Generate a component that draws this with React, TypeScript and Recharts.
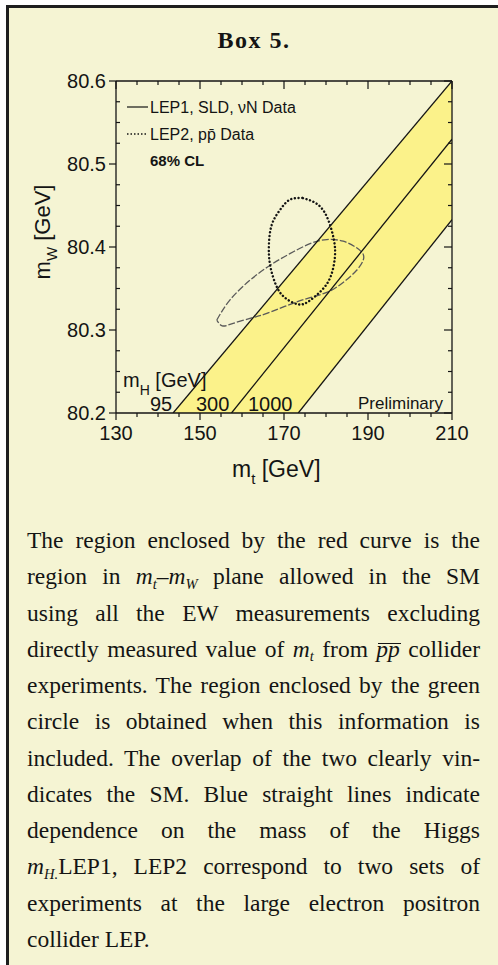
import React from 'react';
import { ComposedChart, Line, Area, XAxis, YAxis } from 'recharts';

// tick positions (minor + major), labels only on majors
const xTicks = [130, 135, 140, 145, 150, 155, 160, 165, 170, 175, 180, 185, 190, 195, 200, 205, 210];
const yTicks = [80.2, 80.225, 80.25, 80.275, 80.3, 80.325, 80.35, 80.375, 80.4, 80.425, 80.45, 80.475, 80.5, 80.525, 80.55, 80.575, 80.6];
const xLabels = [130, 150, 170, 190, 210];
const yLabels = [80.2, 80.3, 80.4, 80.5, 80.6];

// SM prediction lines for m_H = 95, 300, 1000 GeV
const higgs95 = [{ mt: 143.6, mw: 80.2 }, { mt: 210, mw: 80.6 }];
const higgs300 = [{ mt: 157.5, mw: 80.2 }, { mt: 210, mw: 80.53 }];
const higgs1000 = [{ mt: 173.4, mw: 80.2 }, { mt: 210, mw: 80.433 }];

// yellow band between the 95 and 1000 lines
const band = [
  { mt: 143.6, range: [80.2, 80.2] },
  { mt: 173.4, range: [80.2, 80.38] },
  { mt: 210, range: [80.433, 80.6] },
];

// LEP1, SLD, vN contour (solid)
const lep1 = [
  { mt: 154.0, mw: 80.312 },
  { mt: 157.1, mw: 80.336 },
  { mt: 161.9, mw: 80.36 },
  { mt: 166.7, mw: 80.378 },
  { mt: 171.4, mw: 80.392 },
  { mt: 176.2, mw: 80.404 },
  { mt: 180.2, mw: 80.409 },
  { mt: 184.1, mw: 80.407 },
  { mt: 187.3, mw: 80.399 },
  { mt: 189.0, mw: 80.388 },
  { mt: 187.3, mw: 80.372 },
  { mt: 184.0, mw: 80.357 },
  { mt: 180.5, mw: 80.346 },
  { mt: 176.2, mw: 80.339 },
  { mt: 171.0, mw: 80.33 },
  { mt: 165.9, mw: 80.32 },
  { mt: 162.6, mw: 80.315 },
  { mt: 157.9, mw: 80.308 },
  { mt: 155.3, mw: 80.305 },
  { mt: 154.0, mw: 80.312 },
];

// LEP2, ppbar contour (dotted)
const lep2 = [
  { mt: 174.5, mw: 80.459 },
  { mt: 178.1, mw: 80.451 },
  { mt: 180.5, mw: 80.433 },
  { mt: 181.9, mw: 80.408 },
  { mt: 182.1, mw: 80.387 },
  { mt: 181.0, mw: 80.363 },
  { mt: 178.6, mw: 80.346 },
  { mt: 175.7, mw: 80.334 },
  { mt: 173.3, mw: 80.331 },
  { mt: 170.2, mw: 80.339 },
  { mt: 168.1, mw: 80.354 },
  { mt: 166.7, mw: 80.378 },
  { mt: 166.4, mw: 80.402 },
  { mt: 167.1, mw: 80.427 },
  { mt: 169.1, mw: 80.445 },
  { mt: 171.4, mw: 80.457 },
  { mt: 174.5, mw: 80.459 },
];

const INK = '#141414';
const CREAM = '#f5f4d3';
const YELLOW = '#fbf28a';
const SANS = '"Liberation Sans", Arial, sans-serif';
const SERIF = '"Liberation Serif", "Times New Roman", serif';

const isMajorX = (v: number) => xLabels.includes(v);
const isMajorY = (v: number) => yLabels.some((l) => Math.abs(l - v) < 1e-6);

function BottomTick({ x, y, payload }: any) {
  const v = payload.value;
  const major = isMajorX(v);
  return (
    <g>
      <line x1={x} x2={x} y1={y} y2={y + (major ? 7 : 4)} stroke={INK} strokeWidth={1.2} />
      {major && (
        <text x={x} y={y + 27} textAnchor="middle" fontSize={20} fill={INK} fontFamily={SANS}>
          {v}
        </text>
      )}
    </g>
  );
}

function TopTick({ x, y, payload }: any) {
  const major = isMajorX(payload.value);
  return <line x1={x} x2={x} y1={y} y2={y + (major ? 8 : 4)} stroke={INK} strokeWidth={1.2} />;
}

function LeftTick({ x, y, payload }: any) {
  const v = payload.value;
  const major = isMajorY(v);
  return (
    <g>
      {major ? (
        <line x1={x - 7} x2={x} y1={y} y2={y} stroke={INK} strokeWidth={1.2} />
      ) : (
        <line x1={x} x2={x + 4} y1={y} y2={y} stroke={INK} strokeWidth={1.2} />
      )}
      {major && (
        <text x={x - 10} y={y + 7} textAnchor="end" fontSize={20} fill={INK} fontFamily={SANS}>
          {v.toFixed(1)}
        </text>
      )}
    </g>
  );
}

function RightTick({ x, y, payload }: any) {
  const major = isMajorY(payload.value);
  return <line x1={x - (major ? 8 : 4)} x2={x} y1={y} y2={y} stroke={INK} strokeWidth={1.2} />;
}

function Sub({ children }: { children: React.ReactNode }) {
  return (
    <span style={{ position: 'relative', top: '0.3em', fontSize: '0.62em', fontStyle: 'italic' }}>{children}</span>
  );
}

function Bar({ children }: { children: React.ReactNode }) {
  return (
    <span style={{ position: 'relative' }}>
      <i>{children}</i>
      <span
        style={{
          position: 'absolute',
          left: 2,
          right: -1,
          top: '0.32em',
          borderTop: '1.4px solid ' + INK,
        }}
      />
    </span>
  );
}

const paragraph: React.ReactNode[] = [
  <>The region enclosed by the red curve is the</>,
  <>
    region in <i>m</i>
    <Sub>t</Sub>–<i>m</i>
    <Sub>W</Sub> plane allowed in the SM
  </>,
  <>using all the EW measurements excluding</>,
  <>
    directly measured value of <i>m</i>
    <Sub>t</Sub> from <Bar>pp</Bar> collider
  </>,
  <>experiments. The region enclosed by the green</>,
  <>circle is obtained  when this information is</>,
  <>included. The overlap of the two clearly vin-</>,
  <>dicates the SM. Blue straight lines indicate</>,
  <>dependence on the mass of the Higgs</>,
  <>
    <i>m</i>
    <Sub>H.</Sub>LEP1, LEP2 correspond to two sets of
  </>,
  <>experiments at the large electron positron</>,
  <>collider LEP.</>,
];

const axisLine = { stroke: INK, strokeWidth: 1.3 };

export default function App() {
  return (
    <div style={{ position: 'absolute', left: 0, top: 0, width: 498, height: 965, background: '#fff', overflow: 'hidden' }}>
      <div
        style={{
          position: 'absolute',
          left: 6,
          top: 5,
          width: 500,
          height: 970,
          background: CREAM,
          borderTop: '3px solid #1e1e1e',
          borderLeft: '3px solid #1e1e1e',
        }}
      />
      <div
        style={{
          position: 'absolute',
          left: 254,
          top: 28,
          transform: 'translateX(-50%)',
          fontFamily: SERIF,
          fontWeight: 'bold',
          fontSize: 24,
          lineHeight: '24px',
          letterSpacing: 1.5,
          color: INK,
          whiteSpace: 'nowrap',
        }}
      >
        Box 5.
      </div>

      <div style={{ position: 'absolute', left: 0, top: 0 }}>
        <ComposedChart width={498} height={500} margin={{ top: 80, right: 45, bottom: 86, left: 115 }}>
          <XAxis
            xAxisId="b"
            dataKey="mt"
            type="number"
            domain={[130, 210]}
            allowDataOverflow
            ticks={xTicks}
            interval={0}
            height={1}
            tickSize={0}
            tickMargin={0}
            tickLine={false}
            axisLine={axisLine}
            tick={(p: any) => <BottomTick {...p} />}
          />
          <XAxis
            xAxisId="t"
            orientation="top"
            dataKey="mt"
            type="number"
            domain={[130, 210]}
            allowDataOverflow
            ticks={xTicks}
            interval={0}
            height={1}
            tickSize={0}
            tickMargin={0}
            tickLine={false}
            axisLine={axisLine}
            tick={(p: any) => <TopTick {...p} />}
          />
          <YAxis
            yAxisId="l"
            dataKey="mw"
            type="number"
            domain={[80.2, 80.6]}
            allowDataOverflow
            ticks={yTicks}
            interval={0}
            width={1}
            tickSize={0}
            tickMargin={0}
            tickLine={false}
            axisLine={axisLine}
            tick={(p: any) => <LeftTick {...p} />}
          />
          <YAxis
            yAxisId="r"
            orientation="right"
            type="number"
            domain={[80.2, 80.6]}
            allowDataOverflow
            ticks={yTicks}
            interval={0}
            width={1}
            tickSize={0}
            tickMargin={0}
            tickLine={false}
            axisLine={axisLine}
            tick={(p: any) => <RightTick {...p} />}
          />
          <Area
            xAxisId="b"
            yAxisId="l"
            data={band}
            dataKey="range"
            type="linear"
            fill={YELLOW}
            fillOpacity={1}
            stroke="none"
            isAnimationActive={false}
            dot={false}
            activeDot={false}
          />
          <Line
            xAxisId="b"
            yAxisId="l"
            data={lep1}
            dataKey="mw"
            type="natural"
            stroke="#5a5a5a"
            strokeWidth={1.3}
            strokeDasharray="7 2"
            dot={false}
            activeDot={false}
            isAnimationActive={false}
          />
          {[higgs95, higgs300, higgs1000].map((d, i) => (
            <Line
              key={i}
              xAxisId="b"
              yAxisId="l"
              data={d}
              dataKey="mw"
              type="linear"
              stroke={INK}
              strokeWidth={1.3}
              dot={false}
              activeDot={false}
              isAnimationActive={false}
            />
          ))}
          <Line
            xAxisId="b"
            yAxisId="l"
            data={lep2}
            dataKey="mw"
            type="natural"
            stroke={INK}
            strokeWidth={2.4}
            strokeDasharray="0.1 3.6"
            strokeLinecap="round"
            dot={false}
            activeDot={false}
            isAnimationActive={false}
          />
        </ComposedChart>
      </div>

      <svg
        width={498}
        height={500}
        style={{ position: 'absolute', left: 0, top: 0, pointerEvents: 'none' }}
        fontFamily={SANS}
        fill={INK}
      >
        {/* legend */}
        <line x1={127} x2={148} y1={107} y2={107} stroke={INK} strokeWidth={1.2} />
        <text x={150} y={113} fontSize={16}>LEP1, SLD, νN Data</text>
        <line x1={127} x2={148} y1={134} y2={134} stroke={INK} strokeWidth={1.6} strokeDasharray="1.5 2" />
        <text x={150} y={140} fontSize={16}>LEP2, pp̄ Data</text>
        <text x={150} y={166} fontSize={15} fontWeight="bold">68% CL</text>

        {/* Higgs mass labels */}
        <text x={123} y={387} fontSize={20}>
          m<tspan dy={8} fontSize={14}>H</tspan>
          <tspan dy={-8}> [GeV]</tspan>
        </text>
        <text x={150} y={411} fontSize={20}>95</text>
        <text x={196} y={411} fontSize={20}>300</text>
        <text x={248} y={411} fontSize={20}>1000</text>
        <text x={443} y={409} fontSize={17} textAnchor="end">Preliminary</text>

        {/* axis titles */}
        <text x={232} y={477} fontSize={23}>
          m<tspan dy={7} fontSize={15}>t</tspan>
          <tspan dy={-7}>  [GeV]</tspan>
        </text>
        <text transform="translate(50,232) rotate(-90)" textAnchor="middle" fontSize={22}>
          m<tspan dy={7} fontSize={15}>W</tspan>
          <tspan dy={-7}>  [GeV]</tspan>
        </text>
      </svg>

      <div
        style={{
          position: 'absolute',
          left: 27,
          top: 522,
          width: 453,
          fontFamily: SERIF,
          fontSize: 23.5,
          lineHeight: '36.27px',
          color: INK,
        }}
      >
        {paragraph.map((line, i) => (
          <div
            key={i}
            style={{
              textAlign: i === paragraph.length - 1 ? 'left' : 'justify',
              textAlignLast: i === paragraph.length - 1 ? 'left' : 'justify',
              height: '36.27px',
            }}
          >
            {line}
          </div>
        ))}
      </div>
    </div>
  );
}
